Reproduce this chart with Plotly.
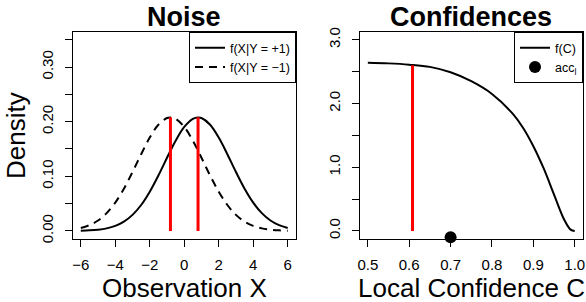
import plotly.graph_objects as go

# ---- Data: left panel (Noise) ----
obs_x = [-6, -5.5, -5, -4.5, -4, -3.5, -3, -2.5, -2, -1.5, -1, -0.8, -0.5, 0,
         0.5, 0.8, 1, 1.5, 2, 2.5, 3, 3.5, 4, 4.5, 5, 5.5, 6]
dens_pos = [0.0004, 0.0010, 0.0022, 0.0046, 0.0091, 0.0169, 0.0293, 0.0474, 0.0718,
            0.1014, 0.1339, 0.1469, 0.1652, 0.1905, 0.2053, 0.2078, 0.2067, 0.1944,
            0.1709, 0.1404, 0.1078, 0.0773, 0.0518, 0.0325, 0.0190, 0.0104, 0.0053]
dens_neg = list(reversed(dens_pos))
noise_red_x = [-0.8, 0.8]
noise_red_top = [0.208, 0.208]
noise_xticks = [-6, -4, -2, 0, 2, 4, 6]
noise_xticktext = ["\u22126", "\u22124", "\u22122", "0", "2", "4", "6"]
noise_yticks = [0, 0.10, 0.20, 0.30]
noise_yticktext = ["0.00", "0.10", "0.20", "0.30"]
noise_yminor = [0.05, 0.15, 0.25, 0.35]

# ---- Data: right panel (Confidences) ----
conf_c = [0.5, 0.55, 0.6, 0.65, 0.7, 0.75, 0.8, 0.85, 0.875, 0.9, 0.925, 0.95,
          0.975, 0.99, 1.0]
conf_f = [2.64, 2.63, 2.61, 2.575, 2.49, 2.35, 2.15, 1.84, 1.62, 1.33, 0.98, 0.57,
          0.17, 0.02, 0.0]
conf_red_x = [0.608]
conf_red_top = [2.60]
acc_x = [0.70]
acc_y = [-0.10]
conf_xticks = [0.5, 0.6, 0.7, 0.8, 0.9, 1.0]
conf_xticktext = ["0.5", "0.6", "0.7", "0.8", "0.9", "1.0"]
conf_yticks = [0, 1.0, 2.0, 3.0]
conf_yticktext = ["0.0", "1.0", "2.0", "3.0"]
conf_yminor = [0.5, 1.5, 2.5]

W, H = 586, 302
FONT = "Liberation Sans, Arial, Helvetica, sans-serif"

def px_x(p):
    return p / W

def px_y(p):
    return 1 - p / H

fig = go.Figure()

# Left panel curves
fig.add_trace(go.Scatter(x=obs_x, y=dens_pos, mode="lines", line=dict(color="black", width=2, shape="spline"),
                         name="f(X|Y = +1)", xaxis="x", yaxis="y", legend="legend"))
fig.add_trace(go.Scatter(x=obs_x, y=dens_neg, mode="lines",
                         line=dict(color="black", width=2, dash="8px,6px", shape="spline"),
                         name="f(X|Y = \u22121)", xaxis="x", yaxis="y", legend="legend"))
for xv, top in zip(noise_red_x, noise_red_top):
    fig.add_trace(go.Scatter(x=[xv, xv], y=[0, top], mode="lines", line=dict(color="#ff0000", width=3),
                             showlegend=False, xaxis="x", yaxis="y", hoverinfo="skip"))

# Right panel
fig.add_trace(go.Scatter(x=conf_c, y=conf_f, mode="lines", line=dict(color="black", width=2, shape="spline"),
                         name="f(C)", xaxis="x2", yaxis="y2", legend="legend2"))
for xv, top in zip(conf_red_x, conf_red_top):
    fig.add_trace(go.Scatter(x=[xv, xv], y=[0, top], mode="lines", line=dict(color="#ff0000", width=3),
                             showlegend=False, xaxis="x2", yaxis="y2", hoverinfo="skip"))
fig.add_trace(go.Scatter(x=acc_x, y=acc_y, mode="markers", marker=dict(color="black", size=12),
                         name="acc<sub>l</sub>", xaxis="x2", yaxis="y2", legend="legend2", cliponaxis=False))

axis_common = dict(showgrid=False, zeroline=False, showline=True, mirror=True, linecolor="black",
                   linewidth=1, ticks="outside", ticklen=7, tickwidth=1, tickcolor="black",
                   tickfont=dict(family=FONT, size=15, color="black"), ticklabeloverflow="allow")

def minor(vals):
    return dict(tickmode="array", tickvals=vals, ticks="outside", ticklen=7, tickwidth=1,
                tickcolor="black", showgrid=False)

ydom = [px_y(240.7), px_y(28)]
leg_common = dict(yanchor="top", y=px_y(28), xanchor="right", bgcolor="white",
                  bordercolor="black", borderwidth=1, font=dict(family=FONT, size=12.5),
                  tracegroupgap=0, itemwidth=30)
fig.update_layout(
    width=W, height=H, margin=dict(l=0, r=0, t=0, b=0),
    paper_bgcolor="white", plot_bgcolor="white",
    font=dict(family=FONT, color="black"),
    xaxis=dict(domain=[px_x(71), px_x(296)], range=[-6.48, 6.48], tickvals=noise_xticks,
               ticktext=noise_xticktext, anchor="y", ticklabelstandoff=5, **axis_common),
    yaxis=dict(domain=ydom, range=[-0.014, 0.364], tickvals=noise_yticks, ticktext=noise_yticktext,
               tickangle=-90, anchor="x", ticklabelstandoff=6, minor=minor(noise_yminor), **axis_common),
    xaxis2=dict(domain=[px_x(360), px_x(585)], range=[0.48, 1.02], tickvals=conf_xticks,
                ticktext=conf_xticktext, anchor="y2", ticklabelstandoff=5, **axis_common),
    yaxis2=dict(domain=ydom, range=[-0.12, 3.12], tickvals=conf_yticks, ticktext=conf_yticktext,
                tickangle=-90, anchor="x2", ticklabelstandoff=6, minor=minor(conf_yminor), **axis_common),
    legend=dict(x=px_x(296), **leg_common),
    legend2=dict(x=px_x(585), **leg_common),
    showlegend=True,
)

annos = [
    dict(text="<b>Noise</b>", x=px_x(183.5), y=px_y(12.5), size=27, angle=0),
    dict(text="<b>Confidences</b>", x=px_x(472.5), y=px_y(12.5), size=27, angle=0),
    dict(text="Observation X", x=px_x(183.5), y=px_y(292), size=26, angle=0),
    dict(text="Local Confidence C", x=px_x(472.5), y=px_y(292), size=26, angle=0),
    dict(text="Density", x=px_x(14), y=px_y(134), size=26, angle=-90),
]
for a in annos:
    fig.add_annotation(text=a["text"], x=a["x"], y=a["y"], xref="paper", yref="paper",
                       xanchor="center", yanchor="middle", showarrow=False, textangle=a["angle"],
                       font=dict(family=FONT, size=a["size"], color="black"))

fig.write_html("out.html", config={"displayModeBar": False},
               post_script="document.body.style.margin='0';document.body.style.overflow='hidden';")
